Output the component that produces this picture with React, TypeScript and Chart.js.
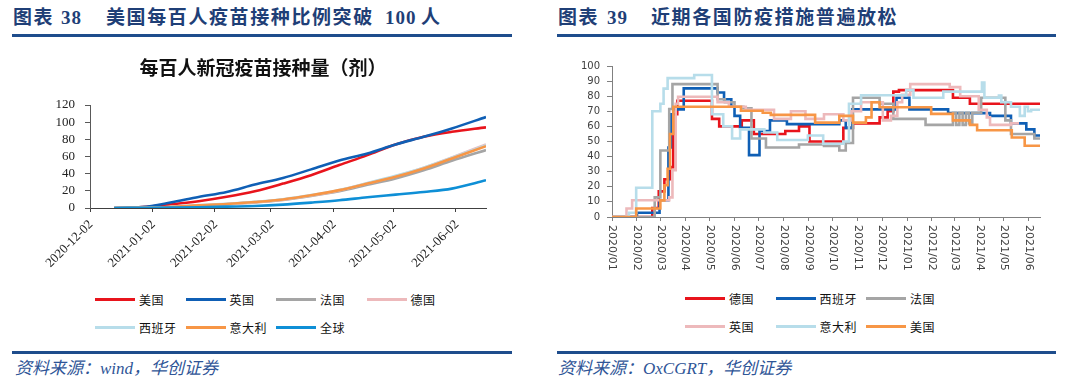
import React, { useEffect, useRef } from "react";
import { Chart, registerables } from "chart.js";

Chart.register(...registerables);

// ---------------- 图表38 data: 每百人新冠疫苗接种量（剂） ----------------
const vacStart = "2020-12-02";
const vacEnd = "2021-06-17";
const vacTickDates = ["2020-12-02", "2021-01-02", "2021-02-02", "2021-03-02", "2021-04-02", "2021-05-02", "2021-06-02"];
const vacTickLabels = ["2020-12-02", "2021-01-02", "2021-02-02", "2021-03-02", "2021-04-02", "2021-05-02", "2021-06-02"];
const vacDates = ["2020-12-14", "2020-12-28", "2021-01-11", "2021-01-25", "2021-02-08", "2021-02-22", "2021-03-08", "2021-03-22", "2021-04-05", "2021-04-19", "2021-05-03", "2021-05-17", "2021-05-31", "2021-06-17"];
const vacUS = [0, 1, 4, 7.8, 13, 19.5, 28.4, 38.2, 50, 61.6, 74, 83, 88.8, 94];
const vacUK = [0, 1, 6.3, 12.9, 18.7, 27.3, 35, 45, 55.3, 63.5, 74, 83, 92.7, 106];
const vacFR = [0, 0, 0.7, 2.5, 4.3, 6.5, 9.5, 14, 19.5, 27, 34.5, 44, 55, 67.5];
const vacDE = [0, 0.1, 1, 2.8, 4.5, 6.8, 9.8, 14.5, 20.5, 28.8, 37, 47, 59, 74];
const vacES = [0, 0.1, 1.3, 3.3, 5, 7.2, 10.2, 15, 21, 29, 37.5, 47, 58.5, 73];
const vacIT = [0, 0.1, 1.2, 3.1, 4.7, 7, 10, 14.8, 20.8, 28.5, 36.3, 46, 57.7, 72];
const vacWorld = [0, 0.2, 0.4, 0.8, 1.6, 2.3, 3.9, 6.3, 9, 12.5, 15.6, 18.7, 22.6, 32.3];
const vacNames = ["美国", "英国", "法国", "德国", "西班牙", "意大利", "全球"];

// ---------------- 图表39 data: 防疫严格指数 (step series) ----------------
const stStart = "2020-01-01";
const stEnd = "2021-06-15";
const stTickDates = ["2020-01-01", "2020-02-01", "2020-03-01", "2020-04-01", "2020-05-01", "2020-06-01", "2020-07-01", "2020-08-01", "2020-09-01", "2020-10-01", "2020-11-01", "2020-12-01", "2021-01-01", "2021-02-01", "2021-03-01", "2021-04-01", "2021-05-01", "2021-06-01"];
const stTickLabels = ["2020/01", "2020/02", "2020/03", "2020/04", "2020/05", "2020/06", "2020/07", "2020/08", "2020/09", "2020/10", "2020/11", "2020/12", "2021/01", "2021/02", "2021/03", "2021/04", "2021/05", "2021/06"];

const deDates = ["2020-01-01", "2020-02-20", "2020-02-28", "2020-03-06", "2020-03-13", "2020-03-17", "2020-03-22", "2020-05-04", "2020-05-13", "2020-06-10", "2020-06-25", "2020-08-03", "2020-08-20", "2020-09-02", "2020-10-14", "2020-10-26", "2020-11-28", "2020-12-08", "2020-12-15", "2020-12-22", "2021-02-27", "2021-03-20"];
const deVals = [0, 6, 17, 25, 33, 68, 77, 65, 60, 64, 55, 57, 60, 50, 59, 62, 66, 70, 83, 84, 79, 75];

const esDates = ["2020-01-01", "2020-02-01", "2020-02-29", "2020-03-11", "2020-03-14", "2020-03-17", "2020-03-30", "2020-05-11", "2020-05-19", "2020-05-28", "2020-06-01", "2020-06-08", "2020-06-19", "2020-07-02", "2020-07-15", "2020-08-05", "2020-10-09", "2020-10-17", "2020-10-25", "2020-12-19", "2021-01-04", "2021-02-21", "2021-04-14", "2021-05-10", "2021-05-29", "2021-06-08"];
const esVals = [0, 2.8, 11.1, 46, 68, 71.3, 85.2, 82.5, 78, 73, 67, 59, 41, 57, 64, 61.5, 64, 59, 71.3, 79, 71.3, 68.8, 67, 62, 58, 54];

const frDates = ["2020-01-01", "2020-02-23", "2020-03-01", "2020-03-12", "2020-03-16", "2020-05-11", "2020-05-20", "2020-06-01", "2020-06-12", "2020-06-22", "2020-07-10", "2020-08-20", "2020-09-20", "2020-10-09", "2020-10-17", "2020-10-26", "2020-11-28", "2020-12-15", "2021-01-24", "2021-02-27", "2021-03-03", "2021-03-07", "2021-03-11", "2021-03-15", "2021-03-19", "2021-03-23", "2021-04-03", "2021-05-03", "2021-05-10", "2021-06-08"];
const frVals = [0, 13, 44, 71.5, 88, 78, 76, 73, 72, 52, 46, 48, 47, 44, 49, 79, 75, 65, 61, 69, 61, 69, 61, 69, 62, 69, 79, 64, 55, 52];

const ukDates = ["2020-01-01", "2020-01-19", "2020-01-26", "2020-03-12", "2020-03-16", "2020-03-20", "2020-03-23", "2020-05-11", "2020-05-25", "2020-06-15", "2020-07-20", "2020-08-10", "2020-08-28", "2020-09-20", "2020-10-14", "2020-10-24", "2020-11-05", "2020-12-02", "2020-12-12", "2020-12-20", "2020-12-26", "2021-01-05", "2021-02-23", "2021-03-08", "2021-03-31", "2021-04-10", "2021-04-14", "2021-05-10", "2021-05-20"];
const ukVals = [0, 5.6, 11.1, 13, 31, 75, 79.6, 76, 73, 71, 65, 70, 65, 68, 64, 70, 76, 64, 67, 76, 81, 88, 86, 80, 71, 66, 61, 62, 62];

const itDates = ["2020-01-01", "2020-01-22", "2020-01-31", "2020-02-20", "2020-03-01", "2020-03-05", "2020-03-10", "2020-04-12", "2020-05-04", "2020-05-18", "2020-05-29", "2020-06-08", "2020-07-08", "2020-07-24", "2020-08-31", "2020-09-19", "2020-10-14", "2020-10-21", "2020-11-05", "2020-12-31", "2021-01-09", "2021-02-15", "2021-04-04", "2021-04-07", "2021-04-25", "2021-04-28", "2021-05-10", "2021-05-21", "2021-05-27", "2021-05-31", "2021-06-04"];
const itVals = [0, 2.8, 19.4, 70, 75, 85, 92, 94, 68, 60, 52, 58, 56, 51, 54, 48.5, 50, 75, 80.6, 84, 79, 83, 89, 79, 80.5, 76, 73, 67, 73, 70, 71];

const usDates = ["2020-01-01", "2020-01-31", "2020-03-01", "2020-03-06", "2020-03-10", "2020-03-13", "2020-03-17", "2020-06-09", "2020-07-06", "2020-07-16", "2020-09-09", "2020-10-09", "2020-10-26", "2020-11-11", "2020-11-18", "2020-11-28", "2021-01-31", "2021-02-27", "2021-03-20", "2021-03-29", "2021-05-11", "2021-05-27"];
const usVals = [0, 5.6, 11, 21, 32, 55, 73, 70.4, 69, 67.6, 62.5, 67, 62.5, 66, 76, 72.7, 68.3, 64, 61, 57.5, 52.6, 47.2];

const stNames = ["德国", "西班牙", "法国", "英国", "意大利", "美国"];

// ---------------- styles ----------------
const RED = "#E8141C";
const DARK_BLUE = "#0F5FB5";
const GRAY = "#A5A5A5";
const PINK = "#EDB9BB";
const LIGHT_BLUE = "#B7DDEA";
const ORANGE = "#F79646";
const WORLD_BLUE = "#0E8FD6";
const HEAD_COLOR = "#1F3F77";
const RULE_COLOR = "#1E4D8C";
const SOURCE_COLOR = "#2F5597";

const vacColors = [RED, DARK_BLUE, GRAY, PINK, LIGHT_BLUE, ORANGE, WORLD_BLUE];
const stColors = [RED, DARK_BLUE, GRAY, PINK, LIGHT_BLUE, ORANGE];

function dayOf(s: string, origin: string) {
  const [y, m, d] = s.split("-").map(Number);
  const [oy, om, od] = origin.split("-").map(Number);
  return (Date.UTC(y, m - 1, d) - Date.UTC(oy, om - 1, od)) / 86400000;
}

function VaccineChart() {
  const ref = useRef<HTMLCanvasElement>(null);
  useEffect(() => {
    const values = [vacUS, vacUK, vacFR, vacDE, vacES, vacIT, vacWorld];
    const n = values.length;
    const chart = new Chart(ref.current!, {
      type: "line",
      data: {
        datasets: values.map((vals, i) => ({
          label: vacNames[i],
          data: vacDates.map((d, j) => ({ x: dayOf(d, vacStart), y: vals[j] })),
          borderColor: vacColors[i],
          backgroundColor: vacColors[i],
          borderWidth: 2.6,
          pointRadius: 0,
          cubicInterpolationMode: "monotone",
          fill: false,
          order: n - i,
        })),
      },
      options: {
        animation: false,
        responsive: true,
        maintainAspectRatio: false,
        layout: { padding: { right: 10 } },
        plugins: {
          legend: { display: false },
          tooltip: { enabled: false },
          title: {
            display: true,
            text: "每百人新冠疫苗接种量（剂）",
            color: "#111",
            font: { family: "'Noto Sans CJK SC'", size: 19, weight: "bold" },
            padding: { top: 1, bottom: 26.2 },
          },
        },
        scales: {
          x: {
            type: "linear",
            min: 0,
            max: dayOf(vacEnd, vacStart),
            afterBuildTicks: (s: any) => {
              s.ticks = vacTickDates.map((d) => ({ value: dayOf(d, vacStart) }));
            },
            afterFit: (s: any) => {
              s.height = 60;
            },
            ticks: {
              autoSkip: false,
              minRotation: 45,
              maxRotation: 45,
              padding: 5,
              labelOffset: 1,
              color: "#222",
              font: { family: "'Liberation Serif'", size: 13 },
              callback: (_v: any, i: number) => vacTickLabels[i],
            },
            grid: { drawOnChartArea: false, drawTicks: true, tickLength: 4, color: "#404040" },
            border: { color: "#404040", width: 1 },
          },
          y: {
            min: 0,
            max: 120,
            afterFit: (s: any) => {
              s.width = 50;
            },
            ticks: {
              stepSize: 20,
              autoSkip: false,
              padding: 10,
              color: "#222",
              font: { family: "'Liberation Serif'", size: 13 },
            },
            grid: { drawOnChartArea: false, drawTicks: true, tickLength: 5, color: "#595959" },
            border: { color: "#595959", width: 1 },
          },
        },
      },
    } as any);
    return () => chart.destroy();
  }, []);
  return <canvas ref={ref} />;
}

const rotatedMonthLabels = {
  id: "rotatedMonthLabels",
  afterDraw(chart: any) {
    const sx = chart.scales.x;
    const { ctx, chartArea } = chart;
    ctx.save();
    ctx.font = "11px 'DejaVu Sans'";
    ctx.fillStyle = "#404040";
    ctx.textAlign = "left";
    ctx.textBaseline = "middle";
    stTickDates.forEach((d, i) => {
      const x = sx.getPixelForValue(dayOf(d, stStart));
      ctx.save();
      ctx.translate(x, chartArea.bottom + 8);
      ctx.rotate(Math.PI / 2);
      ctx.fillText(stTickLabels[i], 0, 0);
      ctx.restore();
    });
    ctx.restore();
  },
};

function StringencyChart() {
  const ref = useRef<HTMLCanvasElement>(null);
  useEffect(() => {
    const dates = [deDates, esDates, frDates, ukDates, itDates, usDates];
    const vals = [deVals, esVals, frVals, ukVals, itVals, usVals];
    const n = dates.length;
    const chart = new Chart(ref.current!, {
      type: "line",
      data: {
        datasets: dates.map((ds, i) => {
          const pts = ds.map((d, j) => ({ x: dayOf(d, stStart), y: vals[i][j] }));
          const last = pts[pts.length - 1];
          const endX = dayOf(stEnd, stStart);
          if (last.x < endX && i !== 3) pts.push({ x: endX, y: last.y });
          return {
            label: stNames[i],
            data: pts,
            borderColor: stColors[i],
            backgroundColor: stColors[i],
            borderWidth: 2.6,
            pointRadius: 0,
            stepped: true,
            fill: false,
            order: n - i,
          };
        }),
      },
      options: {
        animation: false,
        responsive: true,
        maintainAspectRatio: false,
        layout: { padding: { top: 10, right: 4 } },
        plugins: { legend: { display: false }, tooltip: { enabled: false } },
        scales: {
          x: {
            type: "linear",
            min: 0,
            max: dayOf(stEnd, stStart),
            afterBuildTicks: (s: any) => {
              s.ticks = stTickDates.map((d) => ({ value: dayOf(d, stStart) }));
            },
            afterFit: (s: any) => {
              s.height = 58;
            },
            ticks: { display: false, autoSkip: false },
            grid: { drawOnChartArea: false, drawTicks: true, tickLength: 4, color: "#808080" },
            border: { color: "#808080", width: 1 },
          },
          y: {
            min: 0,
            max: 100,
            afterFit: (s: any) => {
              s.width = 52;
            },
            ticks: {
              stepSize: 10,
              autoSkip: false,
              padding: 7,
              color: "#404040",
              font: { family: "'DejaVu Sans'", size: 10 },
            },
            grid: { drawOnChartArea: false, drawTicks: true, tickLength: 5, color: "#808080" },
            border: { color: "#808080", width: 1 },
          },
        },
      },
      plugins: [rotatedMonthLabels],
    } as any);
    return () => chart.destroy();
  }, []);
  return <canvas ref={ref} />;
}

function Legend({ names, colors, cols, left, top }: { names: string[]; colors: string[]; cols: number; left: number; top: number }) {
  return (
    <div
      style={{
        position: "absolute",
        left,
        top,
        display: "grid",
        gridTemplateColumns: `repeat(${cols}, 90.5px)`,
        gridAutoRows: "27.7px",
      }}
    >
      {names.map((name, i) => (
        <div key={name} style={{ display: "flex", alignItems: "center" }}>
          <span style={{ display: "inline-block", width: 40, height: 3, background: colors[i] }} />
          <span
            style={{
              marginLeft: 4,
              fontFamily: "'Noto Sans CJK SC'",
              fontSize: 12,
              lineHeight: "14px",
              color: "#111",
              letterSpacing: 0.5,
            }}
          >
            {name}
          </span>
        </div>
      ))}
    </div>
  );
}

const headStyle: React.CSSProperties = {
  position: "absolute",
  top: 8,
  fontFamily: "'Liberation Serif', 'Noto Sans CJK SC'",
  fontWeight: "bold",
  fontSize: 19,
  lineHeight: "20px",
  letterSpacing: 1.6,
  color: HEAD_COLOR,
  whiteSpace: "nowrap",
};

const sourceStyle: React.CSSProperties = {
  position: "absolute",
  top: 359,
  fontFamily: "'Liberation Serif', 'Noto Sans CJK SC'",
  fontStyle: "italic",
  fontSize: 17,
  lineHeight: "20px",
  color: SOURCE_COLOR,
  whiteSpace: "nowrap",
};

function Rule({ left, top, width }: { left: number; top: number; width: number }) {
  return <div style={{ position: "absolute", left, top, width, height: 2.5, background: RULE_COLOR }} />;
}

export default function App() {
  return (
    <div
      style={{
        position: "absolute",
        left: 0,
        top: 0,
        width: 1080,
        height: 390,
        overflow: "hidden",
        background: "#fff",
      }}
    >
      {/* Left panel */}
      <div style={{ ...headStyle, left: 13 }}>图表</div>
      <div style={{ ...headStyle, left: 61, letterSpacing: 1 }}>38</div>
      <div style={{ ...headStyle, left: 106 }}>美国每百人疫苗接种比例突破</div>
      <div style={{ ...headStyle, left: 385, letterSpacing: 1 }}>100</div>
      <div style={{ ...headStyle, left: 421 }}>人</div>
      <Rule left={12} top={34} width={500} />

      <div style={{ position: "absolute", left: 40, top: 55, width: 456, height: 213 }}>
        <VaccineChart />
      </div>
      <Legend names={vacNames} colors={vacColors} cols={4} left={95} top={286} />

      <Rule left={12} top={351} width={500} />
      <div style={{ ...sourceStyle, left: 15 }}>资料来源：wind，华创证券</div>

      {/* Right panel */}
      <div style={{ ...headStyle, left: 558 }}>图表</div>
      <div style={{ ...headStyle, left: 607, letterSpacing: 1 }}>39</div>
      <div style={{ ...headStyle, left: 651 }}>近期各国防疫措施普遍放松</div>
      <Rule left={557} top={34} width={499} />

      <div style={{ position: "absolute", left: 560, top: 53, width: 484, height: 222 }}>
        <StringencyChart />
      </div>
      <Legend names={stNames} colors={stColors} cols={3} left={685} top={285} />

      <Rule left={557} top={351} width={499} />
      <div style={{ ...sourceStyle, left: 558 }}>资料来源：OxCGRT，华创证券</div>
    </div>
  );
}
